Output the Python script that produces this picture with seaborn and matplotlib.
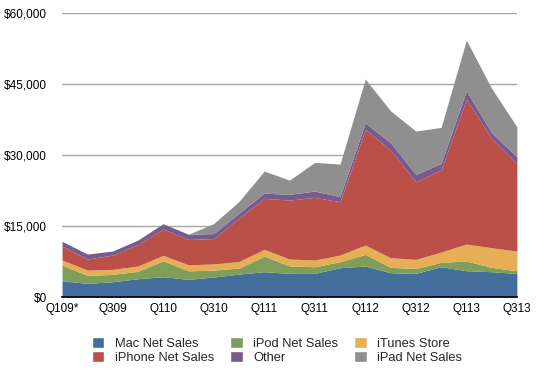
import numpy as np
import pandas as pd
import matplotlib
matplotlib.use("Agg")
import matplotlib.pyplot as plt
import seaborn as sns
from matplotlib.patches import Patch
from matplotlib.ticker import FuncFormatter

# quarters
quarters = ["Q109*", "Q209", "Q309", "Q409", "Q110", "Q210", "Q310", "Q410",
            "Q111", "Q211", "Q311", "Q411", "Q112", "Q212", "Q312", "Q412",
            "Q113", "Q213", "Q313"]

# net sales ($ millions)
mac = [3440, 2890, 3240, 3870, 4290, 3740, 4230, 4860, 5350, 5000,
       5000, 6200, 6550, 5140, 5000, 6410, 5560, 5350, 5000]
ipod = [3320, 1690, 1550, 1560, 3380, 1800, 1470, 1250, 3310, 1550,
        1410, 1260, 2470, 1130, 1060, 920, 2050, 920, 560]
itunes = [1060, 1120, 1060, 1120, 1140, 1270, 1300, 1400, 1420, 1480,
          1410, 1410, 1970, 2040, 1900, 2180, 3590, 4150, 4160]
iphone = [2960, 2330, 3020, 4580, 5560, 5350, 5350, 9170, 10770, 12470,
          13240, 11270, 24440, 22750, 16410, 17330, 30640, 23110, 18530]
other = [990, 1060, 850, 910, 1120, 1120, 1060, 1050, 1120, 1200,
         1340, 1060, 1400, 1550, 1550, 1410, 1760, 1190, 1400]
ipad = [0, 0, 0, 0, 0, 0, 2110, 2460, 4650, 3020,
        6060, 6900, 9230, 6760, 9160, 7600, 10700, 9380, 6340]

series = ["Mac Net Sales", "iPod Net Sales", "iTunes Store",
          "iPhone Net Sales", "Other", "iPad Net Sales"]
colors = ["#436E9B", "#7E9E5A", "#E6AF55", "#BA5048", "#7A5A8C", "#8E8F8E"]

df = pd.DataFrame({
    "Mac Net Sales": mac,
    "iPod Net Sales": ipod,
    "iTunes Store": itunes,
    "iPhone Net Sales": iphone,
    "Other": other,
    "iPad Net Sales": ipad,
}, index=quarters)

sns.set_theme(style="white")
plt.rcParams['font.family'] = ['Liberation Sans', 'DejaVu Sans']

fig = plt.figure(figsize=(5.54, 3.76), dpi=100)
ax = fig.add_axes([0.112, 0.210, 0.821, 0.755])

x = np.arange(len(quarters))
ax.stackplot(x, *[df[s].values for s in series], colors=colors, linewidth=0)

ax.set_xlim(0, len(quarters) - 1)
ax.set_ylim(0, 60000)
ax.set_yticks([0, 15000, 30000, 45000, 60000])
ax.yaxis.set_major_formatter(FuncFormatter(lambda v, p: "${:,.0f}".format(v)))
ax.set_xticks(x[::2])
ax.set_xticklabels(quarters[::2])
ax.tick_params(axis="both", length=0, labelsize=8.5, colors="black")
ax.tick_params(axis="x", pad=4)
ax.tick_params(axis="y", pad=11)

ax.grid(axis="y", color="#A5A5A5", linewidth=1)
ax.set_axisbelow(True)
sns.despine(ax=ax, left=True, top=True, right=True)
ax.spines["bottom"].set_color("black")
ax.spines["bottom"].set_linewidth(1.2)

# legend, 3 columns x 2 rows (filled column-wise)
order = ["Mac Net Sales", "iPhone Net Sales", "iPod Net Sales", "Other",
         "iTunes Store", "iPad Net Sales"]
cmap = dict(zip(series, colors))
handles = [Patch(facecolor=cmap[s], edgecolor="white", label=s) for s in order]
fig.legend(handles=handles, ncol=3, loc="upper left",
           bbox_to_anchor=(0.166, 0.104), frameon=False, fontsize=9.3,
           handlelength=0.97, handleheight=0.9, handletextpad=0.8,
           columnspacing=1.25, labelspacing=0.12, borderaxespad=0,
           borderpad=0)

# title, mostly cut off at the top edge
fig.text(0.56, 1.012, "Apple Quarterly Revenue by Product Type (in millions)",
         ha="center", va="baseline", fontsize=11, fontweight="bold")

fig.savefig("out.png", dpi=100)
